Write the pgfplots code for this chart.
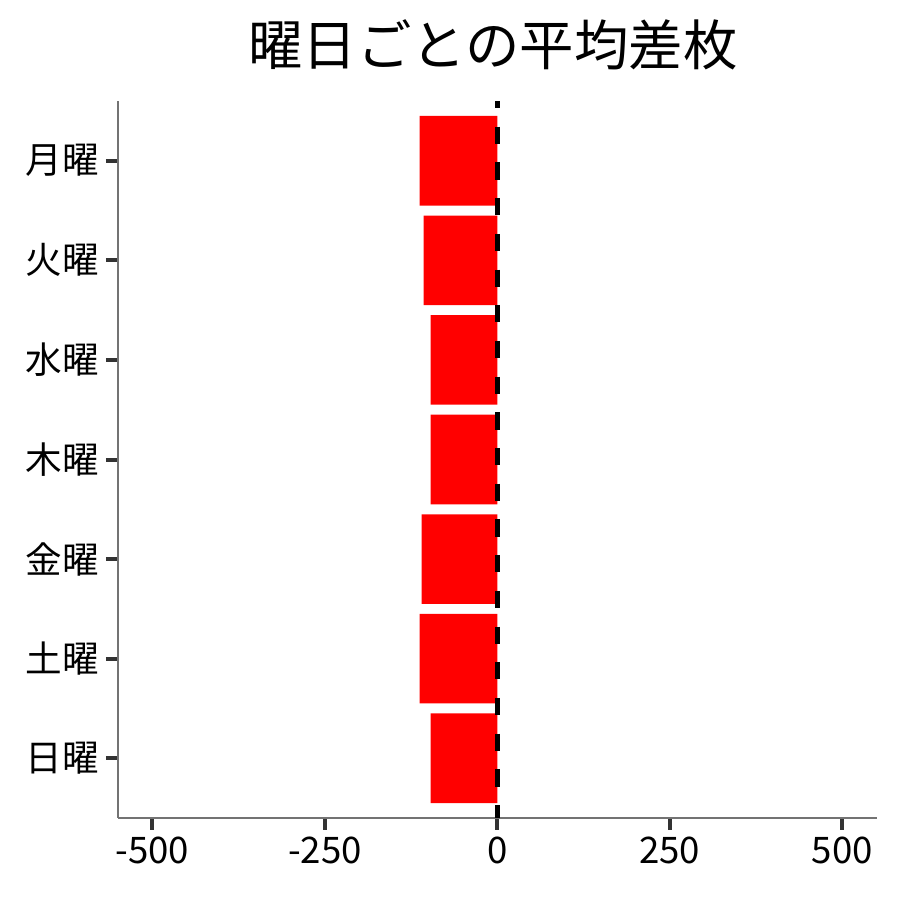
\documentclass[border=0pt]{standalone}
\usepackage{fontspec}
\setmainfont{Noto Sans CJK JP}
\usepackage{pgfplots}
\pgfplotsset{compat=1.18}
\begin{document}
\begin{tikzpicture}
\path[use as bounding box] (0,0) rectangle (450pt,450pt);
\begin{axis}[
  at={(59pt,41pt)}, anchor=south west,
  scale only axis,
  width=379.35pt, height=358.5pt,
  xmin=-550, xmax=550,
  ymin=0.4, ymax=7.6,
  axis lines*=left,
  axis line style={-, draw=black!55, line width=0.6pt},
  xtick={-500,-250,0,250,500},
  ytick={1,2,3,4,5,6,7},
  yticklabels={日曜,土曜,金曜,木曜,水曜,火曜,月曜},
  tick align=outside,
  major tick length=6pt,
  tick style={line width=2pt, draw=black!80},
  ticklabel style={font=\fontsize{18.3pt}{20pt}\selectfont},
  /pgf/number format/assume math mode=true,
  xticklabel={\pgfmathprintnumber[fixed,int detect]{\tick}},
  clip=false,
]
\addplot[xbar, bar width=0.9, bar shift=0pt, fill=red, draw=none] coordinates {
  (-96.7,1)
  (-112.6,2)
  (-109.7,3)
  (-96.7,4)
  (-96.7,5)
  (-106.8,6)
  (-112.6,7)
};
\addplot[black, line width=2.4pt, dash pattern=on 8.6pt off 9.25pt, dash phase=5pt] coordinates {(0,7.6) (0,0.4)};
\end{axis}
\node at (246.5pt,427.5pt) {\fontsize{27.2pt}{30pt}\selectfont 曜日ごとの平均差枚};
\end{tikzpicture}
\end{document}
